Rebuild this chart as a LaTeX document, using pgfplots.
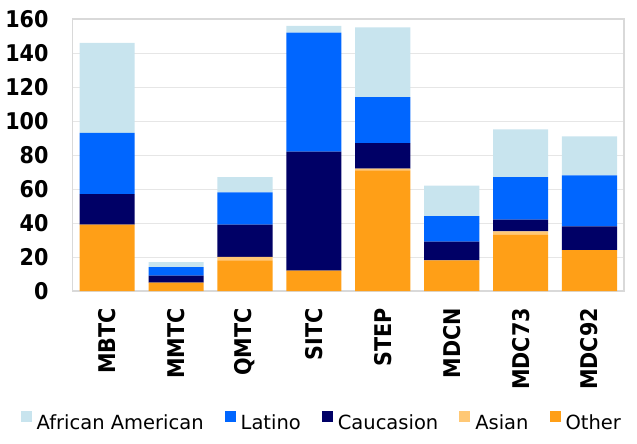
\documentclass[border=0pt]{standalone}
\usepackage{fontspec}
\setmainfont{DejaVu Sans Condensed}
\newfontfamily\legfont{DejaVu Sans}
\usepackage{pgfplots}
\usepackage{pgfplotstable}
\pgfplotsset{compat=1.18}

\definecolor{cAA}{HTML}{C8E4EE}
\definecolor{cLat}{HTML}{0066FF}
\definecolor{cCau}{HTML}{000066}
\definecolor{cAsi}{HTML}{FFC875}
\definecolor{cOth}{HTML}{FF9F17}
\definecolor{frameGray}{HTML}{D9D9D9}
\definecolor{gridGray}{HTML}{E6E6E6}

% enrolment by program and group
\pgfplotstableread{
x other asian cauc latino aa
0 39 0 18 36 53
1 5  0 4  5  3
2 18 2 19 19 9
3 12 0 70 70 4
4 71 1 15 27 41
5 18 0 11 15 18
6 33 2 7  25 28
7 24 0 14 30 23
}\enrol

\begin{document}
\begin{tikzpicture}
\useasboundingbox (-72.7pt,-153pt) rectangle (564.3pt,291pt);
\begin{axis}[
  scale only axis, width=551.3pt, height=272pt,
  ybar stacked, bar width=0.8,
  xmin=-0.5, xmax=7.5, ymin=0, ymax=160,
  xtick=data,
  xticklabels={MBTC,MMTC,QMTC,SITC,STEP,MDCN,MDC73,MDC92},
  ytick={0,20,...,160},
  ymajorgrids, grid style={gridGray, line width=0.8pt},
  axis line style={frameGray, line width=1.3pt},
  major tick length=0pt,
  /pgf/number format/assume math mode=true,
  tick label style={font=\bfseries\fontsize{23}{27}\selectfont, inner sep=0pt},
  yticklabel style={xshift=-24pt},
  xticklabel style={yshift=-17pt, rotate=90, anchor=east},
  legend style={at={(axis description cs:-0.0943,-0.478)}, anchor=west,
    draw=none, fill=none, inner sep=0pt, outer sep=0pt,
    font=\legfont\fontsize{19.5}{23}\selectfont,
    nodes={inner sep=0pt},
    /tikz/every odd column/.append style={column sep=5pt},
    /tikz/every even column/.append style={column sep=21pt}},
  legend columns=-1,
  legend image code/.code={\fill[#1] (0pt,1pt) rectangle (11pt,12pt);},
  reverse legend,
]
\addplot[fill=cOth, draw=none] table[x=x, y=other]{\enrol};
\addplot[fill=cAsi, draw=none] table[x=x, y=asian]{\enrol};
\addplot[fill=cCau, draw=none] table[x=x, y=cauc]{\enrol};
\addplot[fill=cLat, draw=none] table[x=x, y=latino]{\enrol};
\addplot[fill=cAA, draw=none] table[x=x, y=aa]{\enrol};
\legend{Other, Asian, Caucasion, Latino, African American}
\end{axis}
\end{tikzpicture}
\end{document}
